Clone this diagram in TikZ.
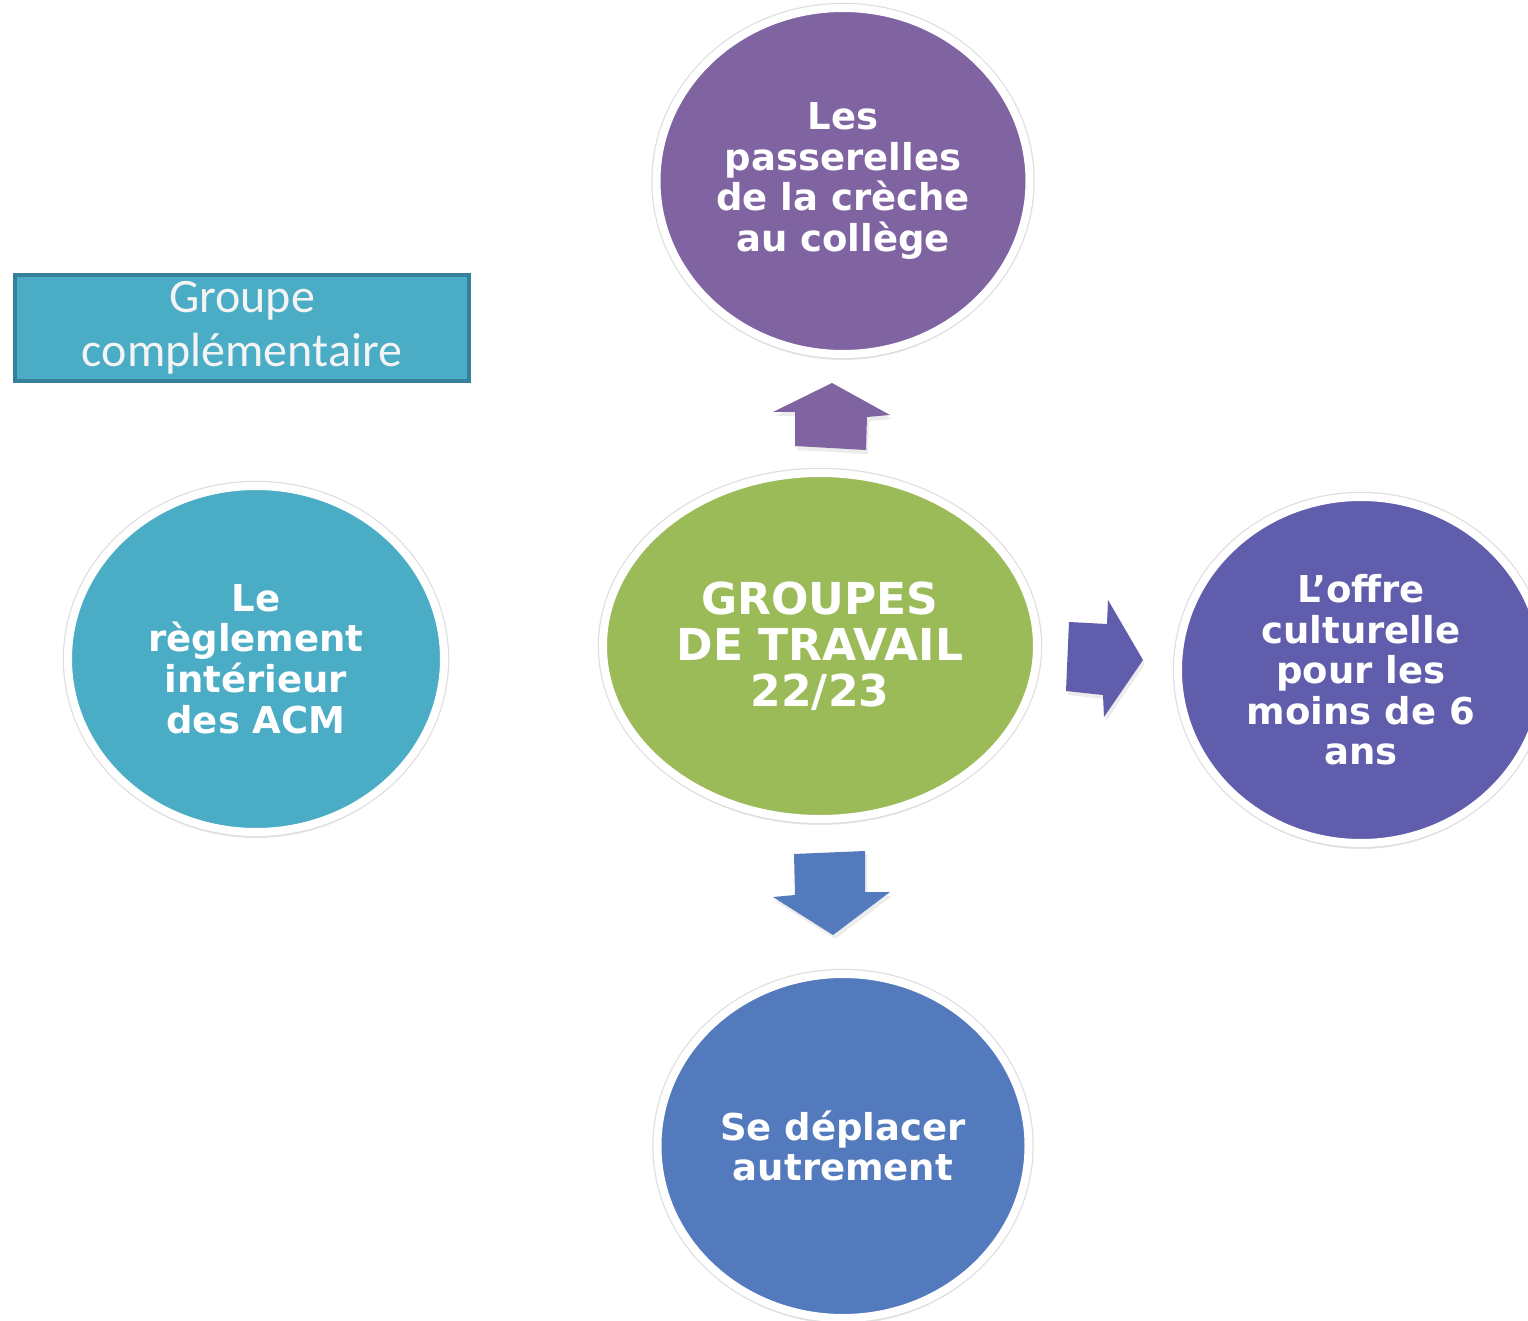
\documentclass[tikz,border=0pt]{standalone}
\usepackage{fontspec}
\setmainfont{DejaVu Sans}
\newfontfamily\boxfont{Carlito}
\usetikzlibrary{shapes.geometric,shadows}
\definecolor{cpurple}{HTML}{8064A2}
\definecolor{cgreen}{HTML}{9BBB59}
\definecolor{cteal}{HTML}{4BACC6}
\definecolor{cviolet}{HTML}{605EAC}
\definecolor{cblue}{HTML}{537ABC}
\definecolor{cboxborder}{HTML}{36809A}
\definecolor{cboxtext}{HTML}{F4F4F4}
\begin{document}
\begin{tikzpicture}[x=0.5pt,y=-0.5pt,
  bubble/.style={ellipse, draw=white, line width=4pt, inner sep=0pt, text=white,
    align=center, font=\bfseries\fontsize{18.5}{20.3}\selectfont,
    drop shadow={shadow xshift=0pt, shadow yshift=-3pt, opacity=0.2},
    preaction={draw=black!13, line width=5.2pt}},
  blockarrow/.style={draw=none, drop shadow={shadow xshift=1pt, shadow yshift=-2pt, opacity=0.15}}]
\useasboundingbox (0,0) rectangle (1528,1321);
\clip (0,0) rectangle (1528,1321);
\fill[white] (0,0) rectangle (1528,1321);

% circles
\node[bubble, fill=cgreen, minimum width=217pt, minimum height=173pt,
  font=\bfseries\fontsize{22}{23}\selectfont] (center) at (820,646)
  {GROUPES\\DE TRAVAIL\\22/23};
\node[bubble, fill=cpurple, minimum width=186.5pt, minimum height=173pt] (top) at (843,181)
  {Les\\passerelles\\de la crèche\\au collège};
\node[bubble, fill=cteal, minimum width=188pt, minimum height=173pt] (left) at (256,659)
  {Le\\règlement\\intérieur\\des ACM};
\node[bubble, fill=cviolet, minimum width=183pt, minimum height=173pt] (right) at (1361,670)
  {L’offre\\culturelle\\pour les\\moins de 6\\ans};
\node[bubble, fill=cblue, minimum width=185.5pt, minimum height=172pt] (bottom) at (843,1146)
  {Se déplacer\\autrement};

% block arrows
\fill[cpurple, blockarrow] (795,446) -- (795,412) -- (773,412) -- (832,383) -- (890,415)
  -- (867,417) -- (866,450) -- cycle;
\fill[cviolet, blockarrow] (1069,622) -- (1107,624) -- (1108,600) -- (1143,660)
  -- (1104,717) -- (1103,695) -- (1066,691) -- cycle;
\fill[cblue, blockarrow] (794,854) -- (865,851) -- (865,892) -- (890,892) -- (833,935)
  -- (773,897) -- (795,895) -- cycle;

% box
\node[draw=cboxborder, fill=cteal, line width=2pt, minimum width=227pt, minimum height=53pt,
  inner sep=0pt, text=cboxtext, align=center, font=\boxfont\fontsize{24}{27}\selectfont]
  (group) at (242,328) {Groupe\\complémentaire};
\end{tikzpicture}
\end{document}
